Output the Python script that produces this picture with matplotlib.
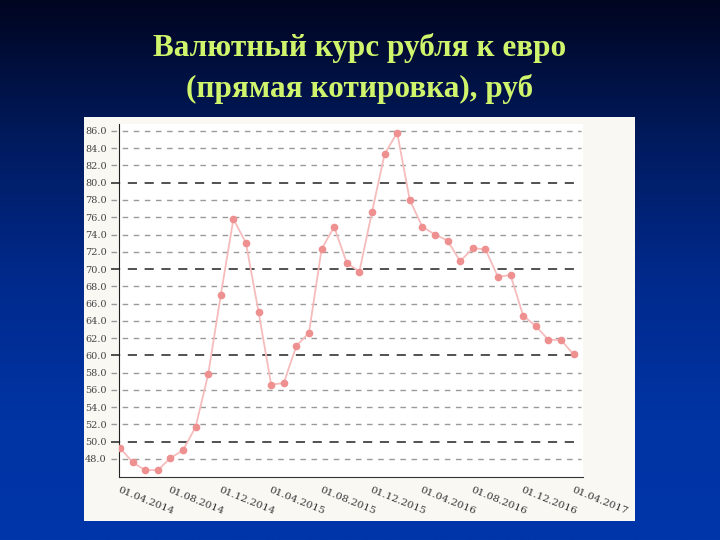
import numpy as np
import matplotlib
matplotlib.use('Agg')
import matplotlib.pyplot as plt
from matplotlib.patches import Rectangle
from matplotlib.colors import LinearSegmentedColormap

# monthly EUR/RUB rate, 01.04.2014 .. 01.04.2017
rate = [49.3, 47.6, 46.7, 46.7, 48.1, 49.0, 51.7, 57.8, 67.0, 75.8,
        73.0, 65.0, 56.6, 56.8, 61.1, 62.6, 72.3, 74.9, 70.7, 69.7,
        76.6, 83.3, 85.8, 78.0, 74.9, 74.0, 73.3, 70.9, 72.4, 72.3,
        69.1, 69.3, 64.6, 63.4, 61.8, 61.8, 60.1]
tick_pos = [0, 4, 8, 12, 16, 20, 24, 28, 32, 36]
tick_labels = ["01.04.2014", "01.08.2014", "01.12.2014", "01.04.2015",
               "01.08.2015", "01.12.2015", "01.04.2016", "01.08.2016",
               "01.12.2016", "01.04.2017"]
y_ticks = list(range(48, 88, 2))
title = "Валютный курс рубля к евро\n(прямая котировка), руб"

fig = plt.figure(figsize=(7.2, 5.4), dpi=100)

# slide background: dark navy on top -> blue at bottom
bg = fig.add_axes([0, 0, 1, 1], zorder=-10)
cmap = LinearSegmentedColormap.from_list(
    "slide", ["#000520", "#001a5c", "#00298a", "#0033a2", "#0036aa"])
grad = np.linspace(0, 1, 256).reshape(-1, 1)
bg.imshow(grad, aspect='auto', cmap=cmap, extent=[0, 1, 0, 1], origin='upper')
bg.set_xlim(0, 1)
bg.set_ylim(0, 1)
bg.axis('off')

# light panel with the chart
fig.patches.append(Rectangle((84 / 720, 1 - 521 / 540), (635 - 84) / 720, (521 - 117) / 540,
                             transform=fig.transFigure, facecolor="#f9f8f3",
                             edgecolor="none", zorder=-5))

fig.text(0.5, 0.873, title, ha='center', va='center', color="#d0f56c",
         fontsize=22.5, fontweight='bold', family='Liberation Serif', linespacing=1.45)

ax = fig.add_axes([0.1657, 0.1161, 0.644, 0.6537])
ax.set_facecolor("white")
x = np.arange(len(rate))

for v in y_ticks:
    if v % 10 == 0:
        ax.axhline(v, xmin=-0.018, xmax=0.995, color="#222222", lw=1.1,
                   dashes=(6, 5), clip_on=False, zorder=1)
    else:
        ax.axhline(v, xmin=-0.018, xmax=0.995, color="#9a9a9a", lw=1.0,
                   dashes=(4, 4), clip_on=False, zorder=1)

ax.plot(x, rate, color="#f6bcbc", lw=1.3, zorder=3)
ax.plot(x, rate, 'o', color="#ef9090", markersize=4.5, zorder=4)

ax.set_xlim(-0.056, 36.75)
ax.set_ylim(45.87, 86.77)
ax.set_yticks(y_ticks)
ax.set_yticklabels([f"{v:.1f}" for v in y_ticks])
ax.set_xticks(tick_pos)
ax.set_xticklabels(tick_labels, rotation=-22, ha='left', va='top',
                   rotation_mode='anchor')
ax.tick_params(axis='y', length=0, pad=9, labelsize=7, labelcolor="#444444")
ax.tick_params(axis='x', length=0, pad=6, labelsize=7.5, labelcolor="#333333")
for lbl in ax.get_yticklabels() + ax.get_xticklabels():
    lbl.set_family('DejaVu Serif')

for side in ['top', 'right']:
    ax.spines[side].set_visible(False)
ax.spines['left'].set_color("#222222")
ax.spines['bottom'].set_color("#333333")

fig.savefig("out.png", dpi=100)
